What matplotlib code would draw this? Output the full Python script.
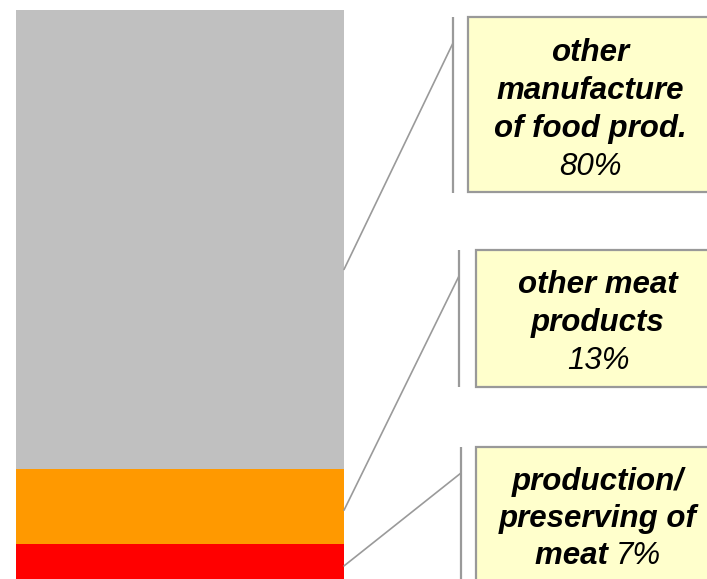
import matplotlib
matplotlib.use("Agg")
import matplotlib.pyplot as plt
from matplotlib.patches import Rectangle, ConnectionPatch

# Data
categories = ["production/\npreserving of\nmeat", "other meat\nproducts", "other\nmanufacture\nof food prod."]
values = [7, 13, 80]
pct_labels = ["7%", "13%", "80%"]
colors = ["#FF0000", "#FF9900", "#C0C0C0"]

W, H = 707, 579
fig = plt.figure(figsize=(W / 100, H / 100), dpi=100)

def fx(px):
    return px / W

def fy(py):
    return (H - py) / H

# Bar axes: data 0..100 maps to pixel y 584..10, x 16..344
ax = fig.add_axes([fx(16), fy(584), fx(344) - fx(16), fy(10) - fy(584)])
bottom = 0
bottoms = []
for v, c in zip(values, colors):
    ax.bar(0, v, bottom=bottom, width=1.0, color=c, edgecolor="none")
    bottoms.append(bottom)
    bottom += v
ax.set_xlim(-0.5, 0.5)
ax.set_ylim(0, sum(values))
ax.axis("off")

# Overlay axes in pixel coordinates
ov = fig.add_axes([0, 0, 1, 1], zorder=-1)
ov.set_xlim(0, W)
ov.set_ylim(H, 0)
ov.axis("off")

anchor_frac = [0.45, 0.45, 0.435]
boxes = [
    dict(bx=461, bt=447, bb=600, left=476, top=447, bot=640, base0=490, ls=37),
    dict(bx=459, bt=250, bb=387, left=476, top=250, bot=387, base0=293, ls=38),
    dict(bx=453, bt=17, bb=193, left=468, top=17, bot=192, base0=61, ls=38),
]

line_col = "#9A9A9A"
FS = 22.5
FAM = "Liberation Sans"
renderer = fig.canvas.get_renderer()
for i, (cat, v, p, b) in enumerate(zip(categories, values, pct_labels, boxes)):
    ov.plot([b["bx"], b["bx"]], [b["bt"], b["bb"]], color=line_col, lw=1.6, solid_capstyle="butt")
    anchor = bottoms[i] + anchor_frac[i] * v
    con = ConnectionPatch(xyA=(0.5, anchor), coordsA=ax.transData,
                          xyB=(b["bx"], b["bt"] + 26), coordsB=ov.transData,
                          color=line_col, lw=1.2)
    fig.add_artist(con)
    ov.add_patch(Rectangle((b["left"], b["top"]), 260, b["bot"] - b["top"],
                           facecolor="#FFFFCC", edgecolor="#999999", lw=1.6, clip_on=False))
    cx = b["left"] + 122
    LS = b["ls"]
    lines = cat.split("\n")
    if i == 0:
        for k, ln in enumerate(lines[:-1]):
            ov.text(cx, b["base0"] + k * LS, ln, ha="center", va="baseline",
                    fontsize=FS, fontweight="bold", fontstyle="italic", family=FAM)
        yb = b["base0"] + (len(lines) - 1) * LS
        t1 = ov.text(0, yb, lines[-1] + " ", ha="left", va="baseline",
                     fontsize=FS, fontweight="bold", fontstyle="italic", family=FAM)
        t2 = ov.text(0, yb, p, ha="left", va="baseline",
                     fontsize=FS, fontstyle="italic", family=FAM)
        w1 = t1.get_window_extent(renderer).width
        w2 = t2.get_window_extent(renderer).width
        x0 = cx - (w1 + w2) / 2
        t1.set_x(x0)
        t2.set_x(x0 + w1)
    else:
        for k, ln in enumerate(lines):
            ov.text(cx, b["base0"] + k * LS, ln, ha="center", va="baseline",
                    fontsize=FS, fontweight="bold", fontstyle="italic", family=FAM)
        ov.text(cx, b["base0"] + len(lines) * LS, p, ha="center", va="baseline",
                fontsize=FS, fontstyle="italic", family=FAM)

fig.savefig("out.png", dpi=100)
